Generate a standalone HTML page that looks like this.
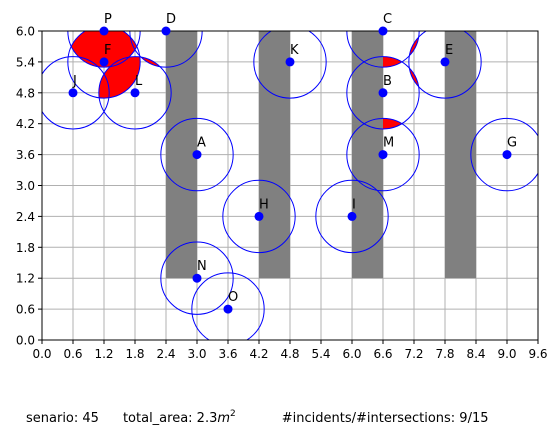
<!DOCTYPE html>
<html><head><meta charset="utf-8"><style>
body{margin:0;background:#fff;}
svg{display:block;font-family:"DejaVu Sans","Liberation Sans",sans-serif;}
</style></head><body>
<svg id="chart" width="558" height="439" viewBox="0 0 558 439" xmlns="http://www.w3.org/2000/svg">
<defs id="defs"><clipPath id="pc"><rect x="42" y="31" width="496" height="309"/></clipPath></defs>
<g id="grid"></g>
<g id="red" clip-path="url(#pc)"></g>
<g id="bars"></g>
<g id="circles"></g>
<rect x="42" y="31" width="496" height="309" fill="none" stroke="#000" stroke-width="1"/>
<g id="axes"></g>
<g id="points"></g>
<text x="26" y="422" font-size="13">senario: 45<tspan dx="24">total_area: 2.3</tspan><tspan font-style="italic">m</tspan><tspan font-size="9" dy="-6">2</tspan><tspan dx="46" dy="6">#incidents/#intersections: 9/15</tspan></text>
</svg>
<script>
const xTicks=[0,0.6,1.2,1.8,2.4,3.0,3.6,4.2,4.8,5.4,6.0,6.6,7.2,7.8,8.4,9.0,9.6];
const yTicks=[0,0.6,1.2,1.8,2.4,3.0,3.6,4.2,4.8,5.4,6.0];
const pointLabels=["P","D","C","K","F","E","J","L","B","A","M","G","H","I","N","O"];
const pointX=[1.2,2.4,6.6,4.8,1.2,7.8,0.6,1.8,6.6,3.0,6.6,9.0,4.2,6.0,3.0,3.6];
const pointY=[6.0,6.0,6.0,5.4,5.4,5.4,4.8,4.8,4.8,3.6,3.6,3.6,2.4,2.4,1.2,0.6];
const radius=0.7;
const incidentA=["P","F","D","C","B","C","B"];
const incidentB=["F","L","L","B","M","E","E"];
const barX0=[2.4,4.2,6.0,7.8];
const barX1=[3.0,4.8,6.6,8.4];
const barY0=[1.2,1.2,1.2,1.2];
const barY1=[6.0,6.0,6.0,6.0];
const NS="http://www.w3.org/2000/svg";
const X=v=>42+v*(496/9.6), Y=v=>340-v*(309/6);
const R=radius*(496/9.6);
function mk(tag,attrs,parent){const e=document.createElementNS(NS,tag);for(const k in attrs)e.setAttribute(k,attrs[k]);parent.appendChild(e);return e;}
const grid=document.getElementById('grid'),axes=document.getElementById('axes');
xTicks.forEach(t=>{
 const l=mk('line',{x1:X(t),x2:X(t),y1:31,y2:340,stroke:'#b0b0b0','stroke-width':1},grid);
 
 
 const tk=mk('line',{x1:X(t),x2:X(t),y1:340,y2:344,stroke:'#000'},axes);
 
 
 const tx=mk('text',{x:X(t),y:358,'font-size':12,'text-anchor':'middle'},axes);
 tx.textContent=t.toFixed(1);
 
 
});
yTicks.forEach(t=>{
 const l=mk('line',{x1:42,x2:538,y1:Y(t),y2:Y(t),stroke:'#b0b0b0','stroke-width':1},grid);
 
 
 const tk=mk('line',{x1:38,x2:42,y1:Y(t),y2:Y(t),stroke:'#000'},axes);
 
 
 const tx=mk('text',{x:35,y:Y(t)+4.5,'font-size':12,'text-anchor':'end'},axes);
 tx.textContent=t.toFixed(1);
 
 
});
const defs=document.getElementById('defs'),red=document.getElementById('red');
incidentA.forEach((a,i)=>{
 const ia=pointLabels.indexOf(a),ib=pointLabels.indexOf(incidentB[i]);
 const cp=mk('clipPath',{id:'cp'+i},defs);
 mk('circle',{cx:X(pointX[ia]),cy:Y(pointY[ia]),r:R},cp);
 const c=mk('circle',{cx:X(pointX[ib]),cy:Y(pointY[ib]),r:R,fill:'#ff0000','clip-path':'url(#cp'+i+')'},red);
 
 
});
const bars=document.getElementById('bars');
barX0.forEach((x0,i)=>{
 const r=mk('rect',{x:X(x0),y:Y(barY1[i]),width:X(barX1[i])-X(x0),height:Y(barY0[i])-Y(barY1[i]),fill:'#808080'},bars);
 
 
});
const circles=document.getElementById('circles'),points=document.getElementById('points');
pointX.forEach((x,i)=>{
 const c=mk('circle',{cx:X(x),cy:Y(pointY[i]),r:R,fill:'none',stroke:'#0000ff','stroke-width':1,'clip-path':'url(#pc)'},circles);
 
 
 const p=mk('circle',{cx:X(x),cy:Y(pointY[i]),r:4.5,fill:'#0000ff'},points);
 
 
 const t=mk('text',{x:X(x),y:Y(pointY[i])-8,'font-size':13},points);
 t.textContent=pointLabels[i];
 
 
});
</script>
</body></html>
